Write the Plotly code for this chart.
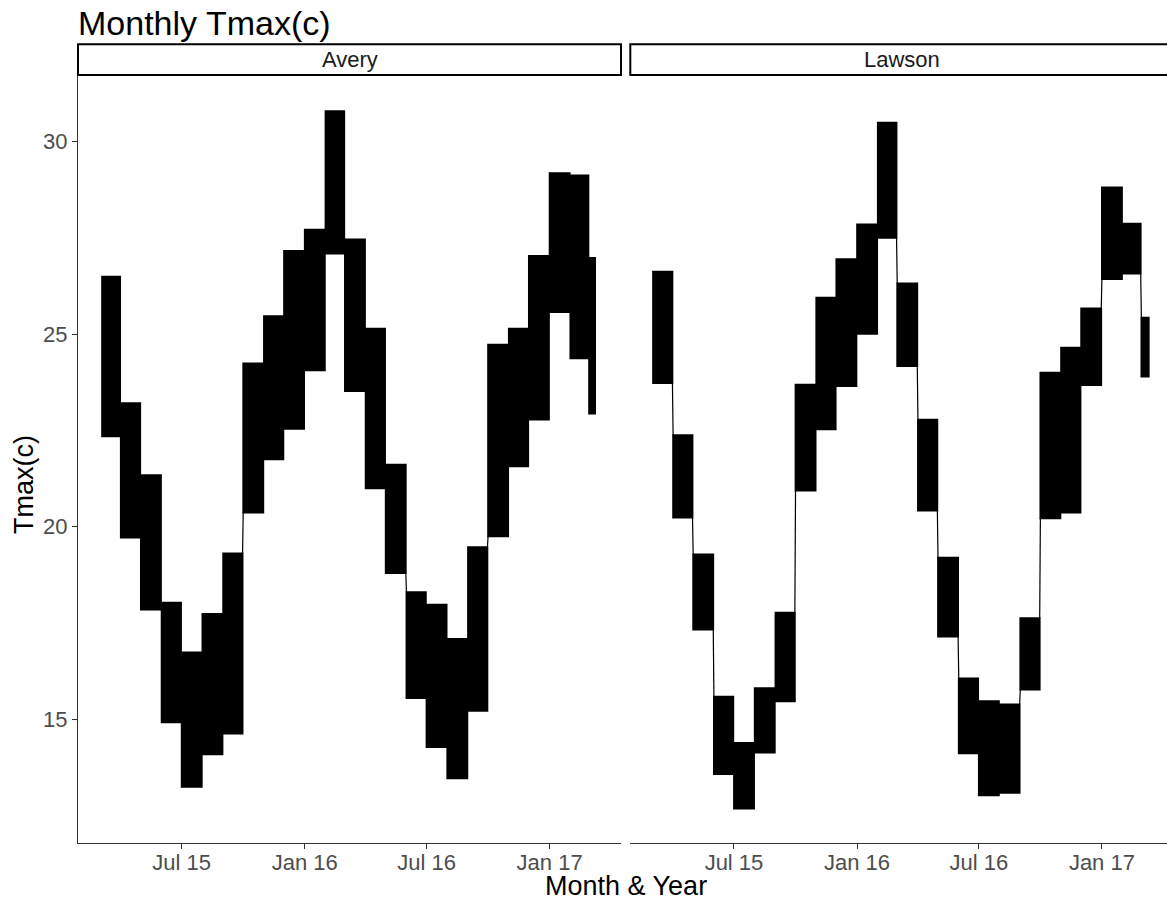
import pandas as pd
import plotly.graph_objects as go

# ---------------- data (monthly Tmax ranges, deg C) ----------------
months = ["2015-03", "2015-04", "2015-05", "2015-06", "2015-07", "2015-08",
          "2015-09", "2015-10", "2015-11", "2015-12", "2016-01", "2016-02",
          "2016-03", "2016-04", "2016-05", "2016-06", "2016-07", "2016-08",
          "2016-09", "2016-10", "2016-11", "2016-12", "2017-01", "2017-02",
          "2017-03"]

avery_low = [22.35, 19.72, 17.85, 14.92, 13.25, 14.09, 14.63, 20.37, 21.75,
             22.54, 24.06, 27.09, 23.52, 21.00, 18.80, 15.55, 14.28, 13.47,
             15.22, 19.75, 21.57, 22.78, 25.57, 24.37, 22.94]
avery_high = [26.49, 23.21, 21.34, 18.03, 16.74, 17.74, 19.31, 24.24, 25.47,
              27.16, 27.71, 30.79, 27.46, 25.14, 21.61, 18.30, 17.98, 17.09,
              19.47, 24.73, 25.14, 27.03, 29.18, 29.12, 26.98]

lawson_low = [23.73, 20.24, 17.33, 13.58, 12.68, 14.14, 15.47, 20.94, 22.53,
              23.65, 25.01, 27.50, 24.17, 20.42, 17.15, 14.12, 13.03, 13.09,
              15.77, 20.22, 20.37, 23.68, 26.43, 26.57, 23.90]
lawson_high = [26.62, 22.38, 19.28, 15.59, 14.39, 15.81, 17.77, 23.69, 25.95,
               26.95, 27.85, 30.49, 26.32, 22.78, 19.20, 16.06, 15.47, 15.39,
               17.63, 24.00, 24.65, 25.67, 28.81, 27.87, 25.43]

avery_first, avery_last = "2015-03-04", "2017-03-10"
lawson_first, lawson_last = "2015-03-02", "2017-03-12"

x_tickvals = ["2015-07-01", "2016-01-01", "2016-07-01", "2017-01-01"]
x_ticktext = ["Jul 15", "Jan 16", "Jul 16", "Jan 17"]
y_tickvals = [15, 20, 25, 30]

FONT = "Liberation Sans, Arial, sans-serif"

fig = go.Figure()


def month_spans(first_day, last_day):
    starts, ends = [], []
    f, l = pd.Timestamp(first_day), pd.Timestamp(last_day)
    for m in months:
        s = pd.Timestamp(m + "-01")
        e = s + pd.offsets.MonthEnd(0)
        starts.append(max(s, f))
        ends.append(min(e, l))
    return starts, ends


def add_site(low, high, first_day, last_day, xa, ya):
    starts, ends = month_spans(first_day, last_day)
    mids = [s + (e - s) / 2 for s, e in zip(starts, ends)]
    widths = [(e - s).total_seconds() * 1000 for s, e in zip(starts, ends)]
    fig.add_trace(go.Bar(
        x=mids, y=[h - lo for h, lo in zip(high, low)], base=low, width=widths,
        marker=dict(color="black", line=dict(color="black", width=1.8)),
        xaxis=xa, yaxis=ya, showlegend=False, hoverinfo="skip"))
    cx, cy = [], []
    for i in range(len(months) - 1):
        if high[i + 1] < low[i]:
            a, b = low[i], high[i + 1]
        elif low[i + 1] > high[i]:
            a, b = high[i], low[i + 1]
        else:
            a = b = (max(low[i], low[i + 1]) + min(high[i], high[i + 1])) / 2
        cx += [ends[i], starts[i + 1], None]
        cy += [a, b, None]
    fig.add_trace(go.Scatter(
        x=cx, y=cy, mode="lines", line=dict(color="black", width=1.2),
        xaxis=xa, yaxis=ya, showlegend=False, hoverinfo="skip"))


add_site(avery_low, avery_high, avery_first, avery_last, "x", "y")
add_site(lawson_low, lawson_high, lawson_first, lawson_last, "x2", "y2")

# ---------------- layout ----------------
W, H = 1167, 900
L, R, T, B = 78, 0, 75, 57
pw = W - L - R
ph = H - T - B
d_a_end = (621 - L) / pw
d_b_start = (630.3 - L) / pw

ref = pd.Timestamp("2015-07-01")
x0 = ref - pd.Timedelta(days=155)
x1a = ref + pd.Timedelta(days=656.7)
x1b = ref + pd.Timedelta(days=647.3)

xcommon = dict(type="date", showgrid=False, zeroline=False, showline=True,
               linecolor="#333333", linewidth=1, ticks="outside", ticklen=5,
               tickcolor="#333333", tickvals=x_tickvals, ticktext=x_ticktext,
               ticklabelstandoff=-5,
               tickfont=dict(family=FONT, size=22, color="#4D4D4D"))
ycommon = dict(range=[11.79, 31.728], showgrid=False, zeroline=False,
               tickvals=y_tickvals)

fig.update_layout(
    width=W, height=H, margin=dict(l=L, r=R, t=T, b=B, pad=0),
    paper_bgcolor="white", plot_bgcolor="white", barmode="overlay",
    xaxis=dict(domain=[0, d_a_end], range=[x0, x1a], anchor="y", **xcommon),
    xaxis2=dict(domain=[d_b_start, 1], range=[x0, x1b], anchor="y2", **xcommon),
    yaxis=dict(domain=[0, 1], anchor="x", showline=True, linecolor="#333333",
               linewidth=1, ticks="outside", ticklen=5, tickcolor="#333333",
               tickfont=dict(family=FONT, size=22, color="#4D4D4D"), **ycommon),
    yaxis2=dict(domain=[0, 1], anchor="x2", showline=False, ticks="",
                showticklabels=False, **ycommon),
    font=dict(family=FONT, color="black"),
)

strip_top = 1 + (T - 44.3) / ph
shapes = [
    dict(type="rect", xref="paper", yref="paper", x0=0, x1=d_a_end, y0=1,
         y1=strip_top, line=dict(color="black", width=2), fillcolor="white"),
    dict(type="rect", xref="paper", yref="paper", x0=d_b_start, x1=1.02, y0=1,
         y1=strip_top, line=dict(color="black", width=2), fillcolor="white"),
]
fig.update_layout(shapes=shapes)

strip_mid = 1 + (T - 59.5) / ph
annotations = [
    dict(text="Avery", x=d_a_end / 2, y=strip_mid, xref="paper", yref="paper",
         showarrow=False, xanchor="center", yanchor="middle",
         font=dict(family=FONT, size=22, color="#1A1A1A")),
    dict(text="Lawson", x=(901.6 - L) / pw, y=strip_mid, xref="paper",
         yref="paper", showarrow=False, xanchor="center", yanchor="middle",
         font=dict(family=FONT, size=22, color="#1A1A1A")),
    dict(text="Monthly Tmax(c)", x=0, xshift=-2, y=1 + (T - 23) / ph,
         xref="paper", yref="paper", showarrow=False, xanchor="left",
         yanchor="middle", font=dict(family=FONT, size=34, color="black")),
    dict(text="Month & Year", x=(625.5 - L) / pw, y=-(886 - (T + ph)) / ph,
         xref="paper", yref="paper", showarrow=False, xanchor="center",
         yanchor="middle", font=dict(family=FONT, size=27, color="black")),
    dict(text="Tmax(c)", x=-(L - 24) / pw, y=1 - (485 - T) / ph,
         xref="paper", yref="paper", showarrow=False, xanchor="center",
         yanchor="middle", textangle=-90,
         font=dict(family=FONT, size=27, color="black")),
]
fig.update_layout(annotations=annotations)

fig.write_html("out.html")
